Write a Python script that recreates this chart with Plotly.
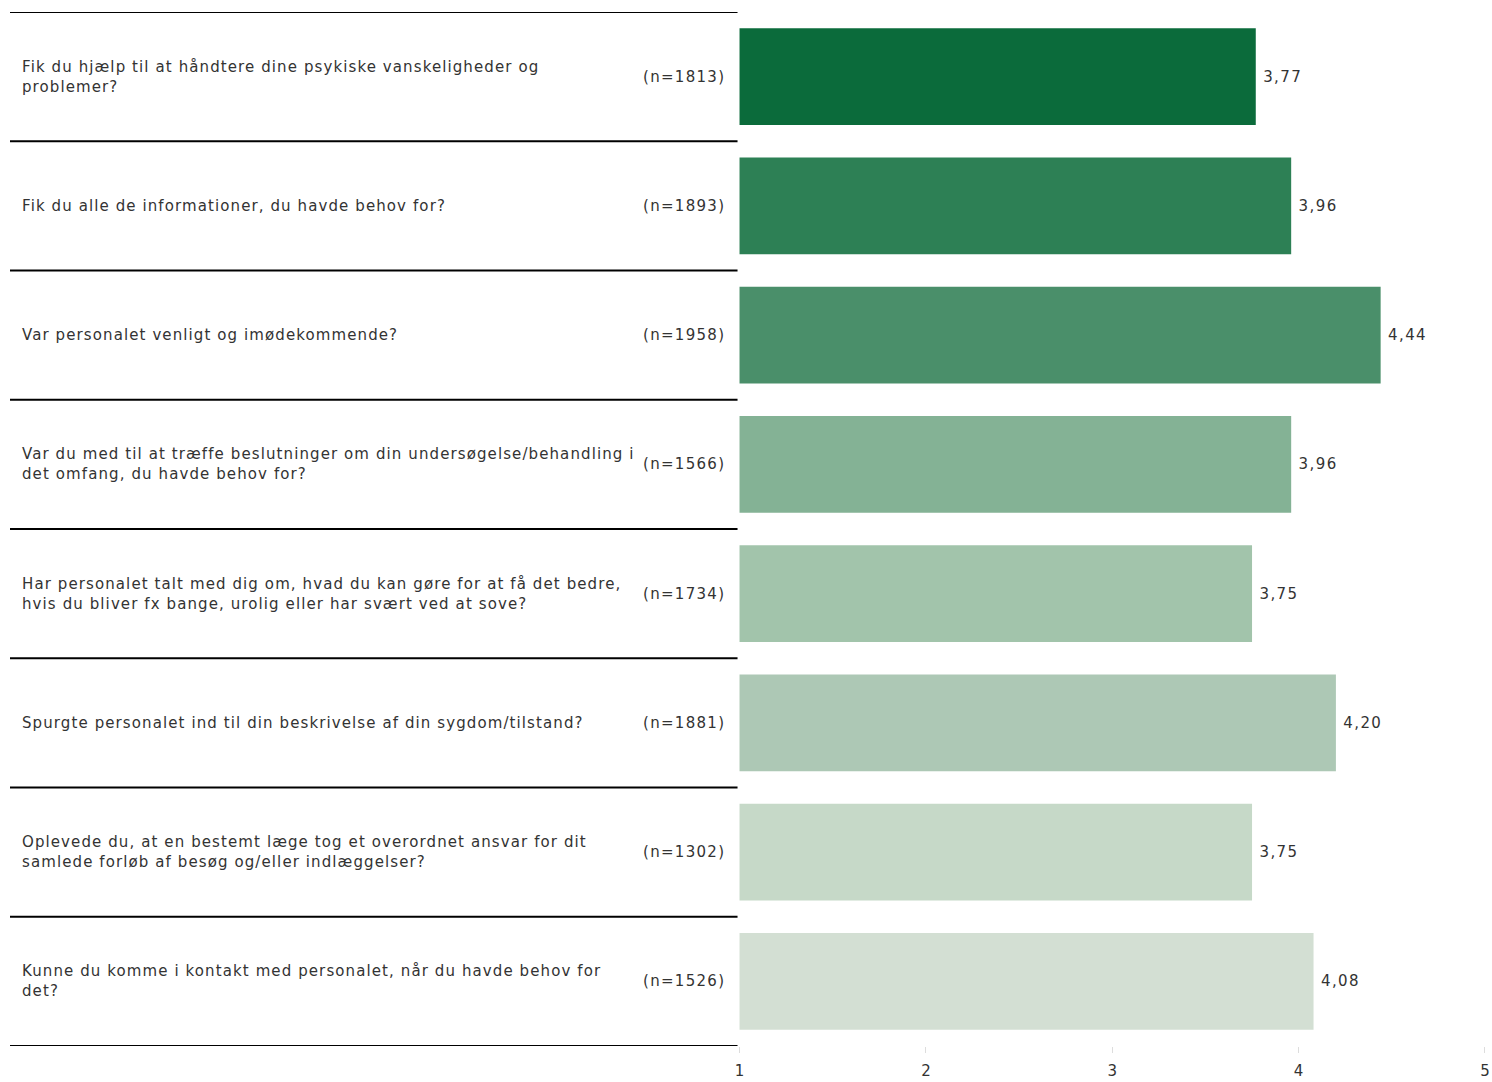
import plotly.graph_objects as go

questions = [
    "Fik du hjælp til at håndtere dine psykiske vanskeligheder og<br>problemer?",
    "Fik du alle de informationer, du havde behov for?",
    "Var personalet venligt og imødekommende?",
    "Var du med til at træffe beslutninger om din undersøgelse/behandling i<br>det omfang, du havde behov for?",
    "Har personalet talt med dig om, hvad du kan gøre for at få det bedre,<br>hvis du bliver fx bange, urolig eller har svært ved at sove?",
    "Spurgte personalet ind til din beskrivelse af din sygdom/tilstand?",
    "Oplevede du, at en bestemt læge tog et overordnet ansvar for dit<br>samlede forløb af besøg og/eller indlæggelser?",
    "Kunne du komme i kontakt med personalet, når du havde behov for<br>det?",
]
n_values = [1813, 1893, 1958, 1566, 1734, 1881, 1302, 1526]
scores = [3.77, 3.96, 4.44, 3.96, 3.75, 4.20, 3.75, 4.08]
colors = ["#0b6b3b", "#2d8055", "#4a8f6a", "#84b295", "#a2c4ab", "#adc8b5", "#c6d9c8", "#d3dfd3"]
tick_vals = [1, 2, 3, 4, 5]

cats = [f"q{i}" for i in range(len(questions))]
FONT = "DejaVu Sans, Verdana, sans-serif"
TXT = "#333333"


def spaced(s, ls):
    return "<br>".join(f"<span style='letter-spacing:{ls}px'>{part}</span>" for part in s.split("<br>"))


fig = go.Figure(go.Bar(
    y=cats, x=scores, orientation="h",
    marker=dict(color=colors, line=dict(width=0)),
    width=0.75,
    texttemplate="<span style='letter-spacing:1.4px'>\u2009%{x:.2f}</span>", textposition="outside",
    textfont=dict(family=FONT, size=15, color=TXT),
    cliponaxis=False, hoverinfo="skip",
))

W, H = 1492, 1082
ml, mr, mt, mb = 10, W - 1490, 12, H - 1054
pw = W - ml - mr
dom0 = (742 - ml) / pw
line_end = (740 - ml) / pw
n_x = (729 - ml) / pw
q_x = (20 - ml) / pw

shapes = []
for k in range(len(cats) + 1):
    shapes.append(dict(type="line", xref="paper", yref="y", x0=0, x1=line_end,
                       y0=k - 0.5, y1=k - 0.5, line=dict(color="black", width=2)))

annotations = []
for c, q, n in zip(cats, questions, n_values):
    annotations.append(dict(xref="paper", yref="y", x=q_x, y=c, text=spaced(q, 1.1), showarrow=False,
                            xanchor="left", yanchor="middle", align="left",
                            font=dict(family=FONT, size=15, color=TXT)))
    annotations.append(dict(xref="paper", yref="y", x=n_x, y=c, text=spaced(f"(n={n})", 1.3), showarrow=False,
                            xanchor="right", yanchor="middle", align="right",
                            font=dict(family=FONT, size=15, color=TXT)))

fig.update_layout(
    width=W, height=H,
    margin=dict(l=ml, r=mr, t=mt, b=mb),
    plot_bgcolor="white", paper_bgcolor="white",
    separators=", ",
    showlegend=False,
    xaxis=dict(domain=[dom0, 1], range=[1, 5], tickvals=tick_vals, showgrid=False, zeroline=False,
               showline=False, ticks="outside", ticklen=6, tickcolor="#dddddd",
               ticklabelstandoff=5, ticklabeloverflow="allow",
               tickfont=dict(family=FONT, size=15, color=TXT)),
    yaxis=dict(categoryorder="array", categoryarray=cats, range=[len(cats) - 0.5, -0.5],
               showticklabels=False, showgrid=False, zeroline=False, showline=False),
    shapes=shapes, annotations=annotations,
)

fig.write_html(
    "out.html",
    config={"displayModeBar": False},
    post_script="document.body.style.margin='0';document.documentElement.style.overflow='hidden';",
)
